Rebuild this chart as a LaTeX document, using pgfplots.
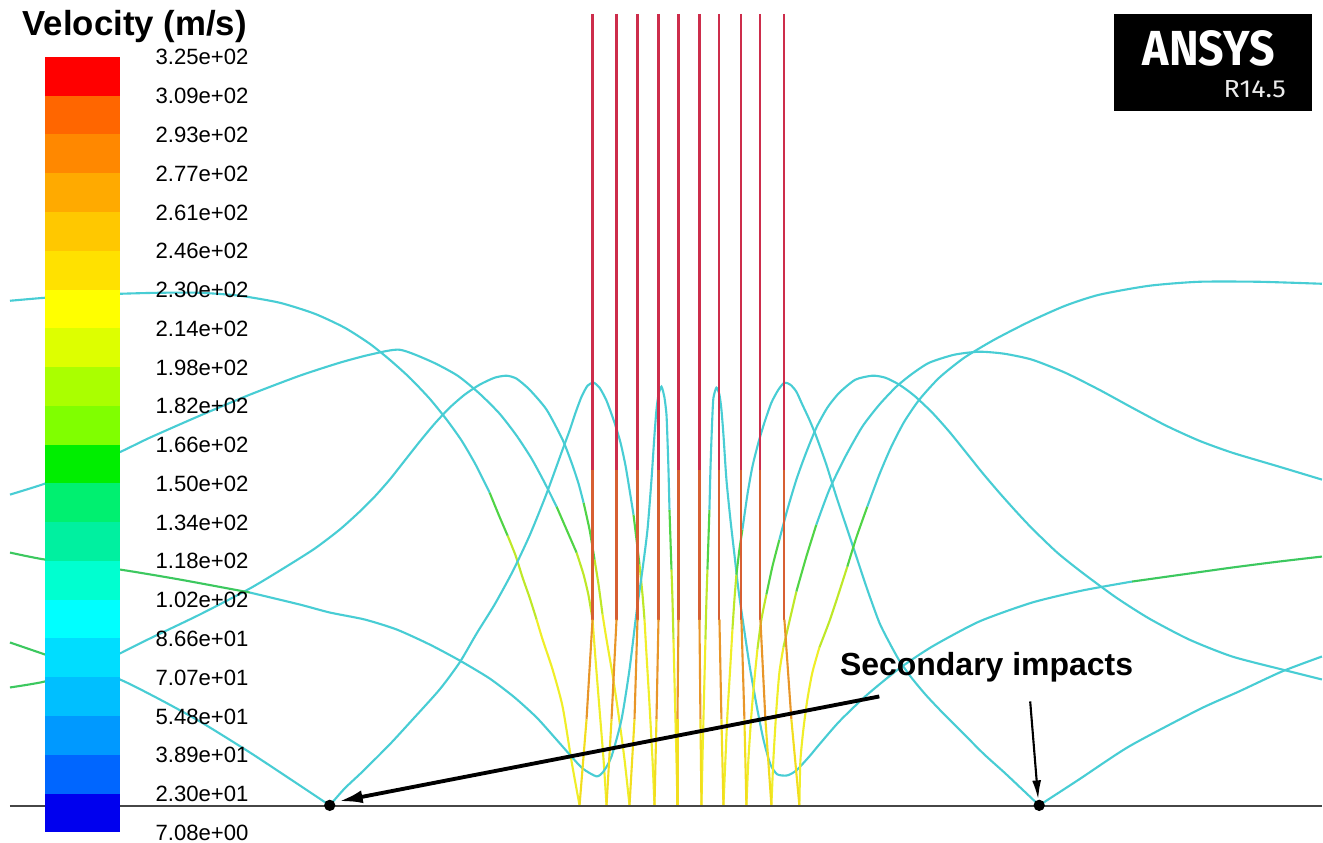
\documentclass[border=0pt]{standalone}
\usepackage{fontspec}
\setmainfont{Liberation Sans}
\newfontfamily\logofont{Fira Sans}
\usepackage{graphicx}
\usepackage{pgfplots}
\pgfplotsset{compat=1.18}
\usetikzlibrary{arrows.meta}

\definecolor{tcyan}{RGB}{72,205,212}
\definecolor{tgreen}{RGB}{80,212,70}
\definecolor{tygreen}{RGB}{190,232,40}
\definecolor{tyel}{RGB}{240,238,40}
\definecolor{tedge}{RGB}{60,200,95}
\definecolor{tred}{RGB}{205,45,75}
\definecolor{tored}{RGB}{215,95,50}
\definecolor{torange}{RGB}{232,150,40}
\definecolor{vyel}{RGB}{242,222,30}
\definecolor{cb1}{RGB}{255,0,0}
\definecolor{cb2}{RGB}{255,102,0}
\definecolor{cb3}{RGB}{255,136,0}
\definecolor{cb4}{RGB}{255,170,0}
\definecolor{cb5}{RGB}{255,200,0}
\definecolor{cb6}{RGB}{255,225,0}
\definecolor{cb7}{RGB}{255,255,0}
\definecolor{cb8}{RGB}{221,255,0}
\definecolor{cb9}{RGB}{170,255,0}
\definecolor{cb10}{RGB}{128,255,0}
\definecolor{cb11}{RGB}{0,238,0}
\definecolor{cb12}{RGB}{0,240,112}
\definecolor{cb13}{RGB}{0,240,160}
\definecolor{cb14}{RGB}{0,255,208}
\definecolor{cb15}{RGB}{0,255,255}
\definecolor{cb16}{RGB}{0,221,255}
\definecolor{cb17}{RGB}{0,191,255}
\definecolor{cb18}{RGB}{0,153,255}
\definecolor{cb19}{RGB}{0,102,255}
\definecolor{cb20}{RGB}{0,0,238}

\pgfplotsset{
  trk/.style={line width=0.6pt, smooth, tension=0.4, mark=none},
  vt/.style={line width=0.6pt, mark=none},
  cbar/.style={draw=none, mark=none},
}
\newcommand{\vtrack}[3]{%
  \addplot[vt, tred] coordinates {(#1,14) (#1,470)};
  \addplot[vt, tored] coordinates {(#1,470) (#1,620)};
  \addplot[vt, torange] coordinates {(#1,620) (#2,720)};
  \addplot[vt, vyel] coordinates {(#2,720) (#3,806)};
}
\newcommand{\cblab}[2]{\node[anchor=base west, inner sep=0, font=\fontsize{6.3}{7}\selectfont] at (axis cs:155,#1) {#2};}

\begin{document}
\begin{tikzpicture}
\begin{axis}[width=132.3mm, height=84.3mm, scale only axis,
  xmin=0, xmax=1323, ymin=0, ymax=843, y dir=reverse,
  hide axis, clip=false]

\addplot[fill=white, draw=none, mark=none] coordinates {(0,0) (1323,0) (1323,843) (0,843)} --cycle;

% ---------- left rebound tracks ----------
% A
\addplot[trk, tyel] coordinates {(580,806) (572,762) (563,707) (553,670) (543,640) (537,620)};
\addplot[trk, tygreen] coordinates {(537,620) (530,598) (523,578) (516,556) (508,536)};
\addplot[trk, tgreen] coordinates {(508,536) (499,515) (490,493)};
\addplot[trk, tcyan] coordinates {(490,493) (476,465) (462,441) (447,420) (430,399) (410,378) (390,360) (370,344) (345,328) (315,314) (280,303) (240,296) (200,293) (160,293) (121,294) (80,296) (45,298) (10,301)};
% L3
\addplot[trk, tyel] coordinates {(607,806) (604,760) (600,710) (596,660) (593,620)};
\addplot[trk, tygreen] coordinates {(593,620) (589,596) (584,575) (577,553)};
\addplot[trk, tgreen] coordinates {(577,553) (567,530) (557,507)};
\addplot[trk, tcyan] coordinates {(557,507) (545,483) (532,459) (517,436) (500,414) (480,394) (458,376) (432,362) (400,350) (370,355) (340,363) (300,376) (250,395) (200,416) (150,438) (121,452) (80,470) (45,484) (10,495)};
% L2
\addplot[trk, tyel] coordinates {(630,806) (625,760) (619,715) (613,675) (607,640) (603,615)};
\addplot[trk, tygreen] coordinates {(603,615) (599,585) (595,560)};
\addplot[trk, tgreen] coordinates {(595,560) (590,530) (584,503)};
\addplot[trk, tcyan] coordinates {(584,503) (579,484) (572,463) (563,440) (547,410) (530,390) (517,379) (507,376) (495,378) (480,385) (465,395) (450,408) (435,424) (420,442) (405,461) (390,480) (375,497) (360,512) (340,530) (315,549) (285,568) (250,589) (200,615) (150,639) (120,654)};
\addplot[trk, tedge] coordinates {(120,654) (80,670) (45,682) (10,688)};
% C1 + secondary rebound
\addplot[trk, tyel] coordinates {(655,806) (653,760) (650,705) (647,655) (645,620)};
\addplot[trk, tygreen] coordinates {(645,620) (643,595) (640,565)};
\addplot[trk, tgreen] coordinates {(640,565) (637,540) (634,515)};
\addplot[trk, tcyan] coordinates {(634,515) (630,490) (626,466) (621,443) (615,423) (607,401) (600,388) (594,383) (588,386) (582,397) (576,413) (570,431) (563,450) (547,494) (530,536) (513,572) (495,605) (477,634) (460,663) (440,690) (413,720) (390,745) (363,772) (345,789) (330,806)};
\addplot[trk, tcyan] coordinates {(330,806) (300,786) (250,753) (200,722) (160,700) (120,680) (80,667)};
\addplot[trk, tedge] coordinates {(80,667) (45,655) (10,643)};
% N1
\addplot[trk, tyel] coordinates {(678,806) (677,760) (676,720) (675,680) (674,640)};
\addplot[trk, tygreen] coordinates {(674,640) (673,600) (672,570)};
\addplot[trk, tgreen] coordinates {(672,570) (671,540) (670,510)};
\addplot[trk, tcyan] coordinates {(670,510) (669,470) (668,440) (667,415) (665,398) (662,387) (659,395) (657,410) (655,435) (652,480) (648,530) (643,570) (637,613) (630,670) (622,720) (612,757) (604,772) (597,777) (583,769) (570,755) (555,738) (537,718) (515,698) (490,679) (460,661) (430,645) (397,630) (365,620) (330,613) (300,605) (250,593)};
\addplot[trk, tedge] coordinates {(250,593) (180,580) (120,570) (45,560) (10,553)};

% ---------- right rebound tracks ----------
% N2
\addplot[trk, tyel] coordinates {(702,806) (703,760) (704,720) (705,680) (706,640)};
\addplot[trk, tygreen] coordinates {(706,640) (707,600) (708,570)};
\addplot[trk, tgreen] coordinates {(708,570) (709,540) (710,510)};
\addplot[trk, tcyan] coordinates {(710,510) (711,470) (712,440) (713,415) (714,398) (717,388) (720,395) (722,410) (724,435) (727,480) (731,520) (735,555) (739,590) (744,625) (750,665) (757,705) (764,740) (771,765) (778,775) (788,776) (797,771) (810,757) (820,745) (840,722) (867,696) (900,669) (933,647) (980,622) (1033,603) (1083,591) (1133,582)};
\addplot[trk, tedge] coordinates {(1133,582) (1183,575) (1233,568) (1280,562) (1323,557)};
% C2 + secondary rebound
\addplot[trk, tyel] coordinates {(724,806) (726,760) (728,715) (731,665) (733,630)};
\addplot[trk, tygreen] coordinates {(733,630) (735,600) (737,575)};
\addplot[trk, tgreen] coordinates {(737,575) (740,550) (743,530)};
\addplot[trk, tcyan] coordinates {(743,530) (748,495) (753,467) (759,443) (765,423) (772,403) (779,390) (785,383) (791,385) (797,392) (803,405) (810,420) (817,437) (827,465) (837,497) (847,527) (857,557) (868,590) (880,623) (890,643) (900,661) (912,678) (927,696) (945,715) (965,735) (985,755) (1005,773) (1022,789) (1040,806)};
\addplot[trk, tcyan] coordinates {(1040,806) (1080,780) (1130,747) (1200,710) (1240,692) (1283,672) (1323,657)};
% R2
\addplot[trk, tyel] coordinates {(747,806) (749,760) (752,715) (755,680) (758,650)};
\addplot[trk, tygreen] coordinates {(758,650) (762,620) (767,595)};
\addplot[trk, tgreen] coordinates {(767,595) (773,567) (780,540)};
\addplot[trk, tcyan] coordinates {(780,540) (788,510) (797,480) (806,455) (817,428) (828,408) (840,393) (856,380) (873,376) (886,378) (900,385) (915,396) (933,413) (950,432) (967,453) (983,473) (1000,493) (1017,512) (1033,529) (1058,553) (1083,573) (1117,598) (1150,619) (1190,640) (1233,657) (1283,670) (1323,680)};
% R3
\addplot[trk, tyel] coordinates {(772,806) (774,760) (777,710) (780,673) (784,648)};
\addplot[trk, tygreen] coordinates {(784,648) (790,622) (797,592)};
\addplot[trk, tgreen] coordinates {(797,592) (807,557) (817,525)};
\addplot[trk, tcyan] coordinates {(817,525) (830,490) (846,457) (863,427) (880,405) (897,387) (913,374) (930,363) (955,355) (980,352) (1005,354) (1033,360) (1066,373) (1100,390) (1133,408) (1167,426) (1200,441) (1233,453) (1280,467) (1323,480)};
% A'
\addplot[trk, tyel] coordinates {(800,806) (801,762) (804,730) (808,700) (813,673) (820,648)};
\addplot[trk, tygreen] coordinates {(820,648) (830,622) (839,595) (848,567)};
\addplot[trk, tgreen] coordinates {(848,567) (857,538) (868,507)};
\addplot[trk, tcyan] coordinates {(868,507) (880,475) (892,447) (905,422) (920,400) (940,378) (965,358) (995,340) (1030,322) (1066,306) (1100,295) (1150,286) (1200,282) (1260,282) (1323,284)};

% ---------- incoming vertical tracks ----------
\vtrack{593}{587}{580}
\vtrack{617}{612}{607}
\vtrack{638}{635}{630}
\vtrack{659}{657}{655}
\vtrack{679}{678}{678}
\vtrack{700}{701}{702}
\vtrack{720}{722}{724}
\vtrack{742}{745}{747}
\vtrack{761}{766}{772}
\vtrack{785}{792}{800}

% ---------- ground ----------
\addplot[line width=0.55pt, color={rgb,255:red,70;green,70;blue,70}, mark=none] coordinates {(10,807) (1323,807)};

% ---------- colour bar ----------
\addplot[cbar, fill=cb1]  coordinates {(45,57) (120,57) (120,96.2) (45,96.2)} --cycle;
\addplot[cbar, fill=cb2]  coordinates {(45,95.8) (120,95.8) (120,135) (45,135)} --cycle;
\addplot[cbar, fill=cb3]  coordinates {(45,134.6) (120,134.6) (120,173.8) (45,173.8)} --cycle;
\addplot[cbar, fill=cb4]  coordinates {(45,173.4) (120,173.4) (120,212.6) (45,212.6)} --cycle;
\addplot[cbar, fill=cb5]  coordinates {(45,212.2) (120,212.2) (120,251.4) (45,251.4)} --cycle;
\addplot[cbar, fill=cb6]  coordinates {(45,251) (120,251) (120,290.2) (45,290.2)} --cycle;
\addplot[cbar, fill=cb7]  coordinates {(45,289.8) (120,289.8) (120,329) (45,329)} --cycle;
\addplot[cbar, fill=cb8]  coordinates {(45,328.6) (120,328.6) (120,367.8) (45,367.8)} --cycle;
\addplot[cbar, fill=cb9]  coordinates {(45,367.4) (120,367.4) (120,406.6) (45,406.6)} --cycle;
\addplot[cbar, fill=cb10] coordinates {(45,406.2) (120,406.2) (120,445.4) (45,445.4)} --cycle;
\addplot[cbar, fill=cb11] coordinates {(45,445) (120,445) (120,484.2) (45,484.2)} --cycle;
\addplot[cbar, fill=cb12] coordinates {(45,483.8) (120,483.8) (120,523) (45,523)} --cycle;
\addplot[cbar, fill=cb13] coordinates {(45,522.6) (120,522.6) (120,561.8) (45,561.8)} --cycle;
\addplot[cbar, fill=cb14] coordinates {(45,561.4) (120,561.4) (120,600.6) (45,600.6)} --cycle;
\addplot[cbar, fill=cb15] coordinates {(45,600.2) (120,600.2) (120,639.4) (45,639.4)} --cycle;
\addplot[cbar, fill=cb16] coordinates {(45,639) (120,639) (120,678.2) (45,678.2)} --cycle;
\addplot[cbar, fill=cb17] coordinates {(45,677.8) (120,677.8) (120,717) (45,717)} --cycle;
\addplot[cbar, fill=cb18] coordinates {(45,716.6) (120,716.6) (120,755.8) (45,755.8)} --cycle;
\addplot[cbar, fill=cb19] coordinates {(45,755.4) (120,755.4) (120,794.6) (45,794.6)} --cycle;
\addplot[cbar, fill=cb20] coordinates {(45,794.2) (120,794.2) (120,833) (45,833)} --cycle;

\cblab{65}{3.25e+02}
\cblab{103.8}{3.09e+02}
\cblab{142.6}{2.93e+02}
\cblab{181.4}{2.77e+02}
\cblab{220.2}{2.61e+02}
\cblab{259}{2.46e+02}
\cblab{297.8}{2.30e+02}
\cblab{336.6}{2.14e+02}
\cblab{375.4}{1.98e+02}
\cblab{414.2}{1.82e+02}
\cblab{453}{1.66e+02}
\cblab{491.8}{1.50e+02}
\cblab{530.6}{1.34e+02}
\cblab{569.4}{1.18e+02}
\cblab{608.2}{1.02e+02}
\cblab{647}{8.66e+01}
\cblab{685.8}{7.07e+01}
\cblab{724.6}{5.48e+01}
\cblab{763.4}{3.89e+01}
\cblab{802.2}{2.30e+01}
\cblab{841}{7.08e+00}

\node[anchor=base west, inner sep=0, font=\fontsize{9.9}{11}\selectfont\bfseries] at (axis cs:22,36) {Velocity (m/s)};

% ---------- logo ----------
\addplot[fill=black, draw=none, mark=none] coordinates {(1115,14) (1313,14) (1313,111) (1115,111)} --cycle;
\node[anchor=south west, inner sep=0, text=white] at (axis cs:1143,67) {\resizebox{13.2mm}{3.5mm}{\logofont\bfseries ANSYS}};
\node[anchor=south west, inner sep=0, text=white!92!black] at (axis cs:1224,99) {\resizebox{6.2mm}{1.7mm}{\logofont R14.5}};

% ---------- annotations ----------
\addplot[black, line width=1.1pt, mark=none, -{Latex[length=2.4mm, width=1.3mm]}] coordinates {(880,697) (339,802)};
\addplot[black, line width=0.6pt, mark=none, -{Latex[length=1.9mm, width=0.9mm]}] coordinates {(1031,702) (1039,800)};
\addplot[only marks, mark=*, mark size=1.4pt, black] coordinates {(330,806) (1040,806)};
\node[anchor=base west, inner sep=0, font=\fontsize{9.1}{10}\selectfont\bfseries] at (axis cs:840,676) {Secondary impacts};

\end{axis}
\end{tikzpicture}
\end{document}
